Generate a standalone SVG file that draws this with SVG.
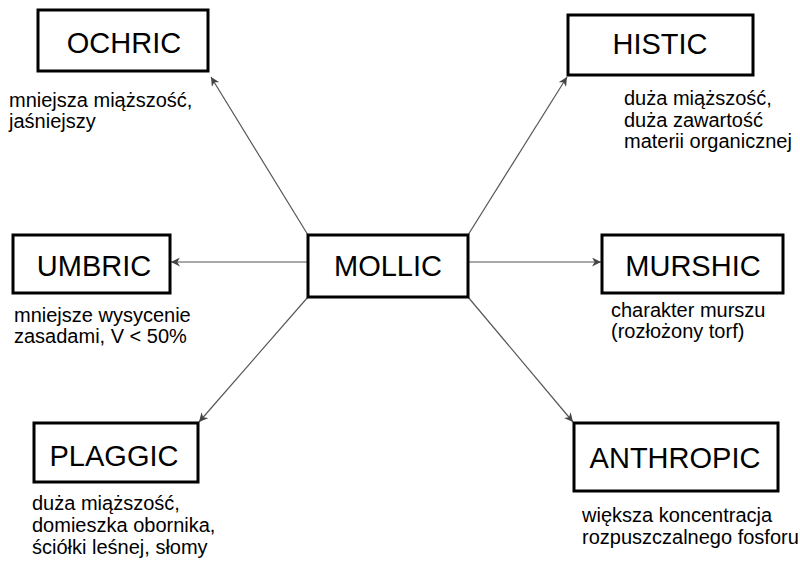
<svg xmlns="http://www.w3.org/2000/svg" width="800" height="565" viewBox="0 0 800 565">
<style>
.box{fill:#fff;stroke:#000;stroke-width:3}
.lbl{font-family:"Liberation Sans",Arial,sans-serif;font-size:29px;text-anchor:middle;fill:#000}
.desc{font-family:"Liberation Sans",Arial,sans-serif;font-size:20px;fill:#000}
.con{stroke:#555;stroke-width:1.2;fill:none;marker-end:url(#ah)}
</style>
<defs>
<marker id="ah" viewBox="0 0 10 10" refX="10" refY="5" markerWidth="9" markerHeight="9" markerUnits="userSpaceOnUse" orient="auto">
<path d="M0,0 L10,5 L0,10 L3,5 Z" fill="#444"/>
</marker>
</defs>
<rect width="800" height="565" fill="#fff"/>
<g id="connectors">
<line class="con" x1="308" y1="235" x2="211" y2="77"/>
<line class="con" x1="468" y1="235" x2="567" y2="77"/>
<line class="con" x1="308" y1="262" x2="171" y2="262"/>
<line class="con" x1="468" y1="262" x2="601" y2="262"/>
<line class="con" x1="308" y1="297" x2="199" y2="422"/>
<line class="con" x1="468" y1="297" x2="573" y2="422"/>
</g>
<g id="mollic">
<rect class="box" x="308" y="235" width="160" height="62"/>
<text class="lbl" x="388" y="276">MOLLIC</text>
</g>
<g id="ochric">
<rect class="box" x="38" y="10" width="170" height="61"/>
<text class="lbl" x="124" y="53">OCHRIC</text>
<text class="desc" x="9" y="107">mniejsza miąższość,</text>
<text class="desc" x="9" y="128">jaśniejszy</text>
</g>
<g id="histic">
<rect class="box" x="568" y="15" width="185" height="60"/>
<text class="lbl" x="660" y="54">HISTIC</text>
<text class="desc" x="624" y="105">duża miąższość,</text>
<text class="desc" x="624" y="127">duża zawartość</text>
<text class="desc" x="624" y="148">materii organicznej</text>
</g>
<g id="umbric">
<rect class="box" x="13" y="235" width="157" height="58"/>
<text class="lbl" x="94" y="276">UMBRIC</text>
<text class="desc" x="14" y="322">mniejsze wysycenie</text>
<text class="desc" x="14" y="343">zasadami, V &lt; 50%</text>
</g>
<g id="murshic">
<rect class="box" x="602" y="235" width="181" height="58"/>
<text class="lbl" x="693" y="276">MURSHIC</text>
<text class="desc" x="611" y="317">charakter murszu</text>
<text class="desc" x="611" y="338">(rozłożony torf)</text>
</g>
<g id="plaggic">
<rect class="box" x="34" y="423" width="164" height="59"/>
<text class="lbl" x="114" y="466">PLAGGIC</text>
<text class="desc" x="32" y="510">duża miąższość,</text>
<text class="desc" x="32" y="532">domieszka obornika,</text>
<text class="desc" x="32" y="554">ściółki leśnej, słomy</text>
</g>
<g id="anthropic">
<rect class="box" x="574" y="423" width="204" height="68"/>
<text class="lbl" x="675" y="468">ANTHROPIC</text>
<text class="desc" x="582" y="522">większa koncentracja</text>
<text class="desc" x="582" y="544">rozpuszczalnego fosforu</text>
</g>
</svg>
